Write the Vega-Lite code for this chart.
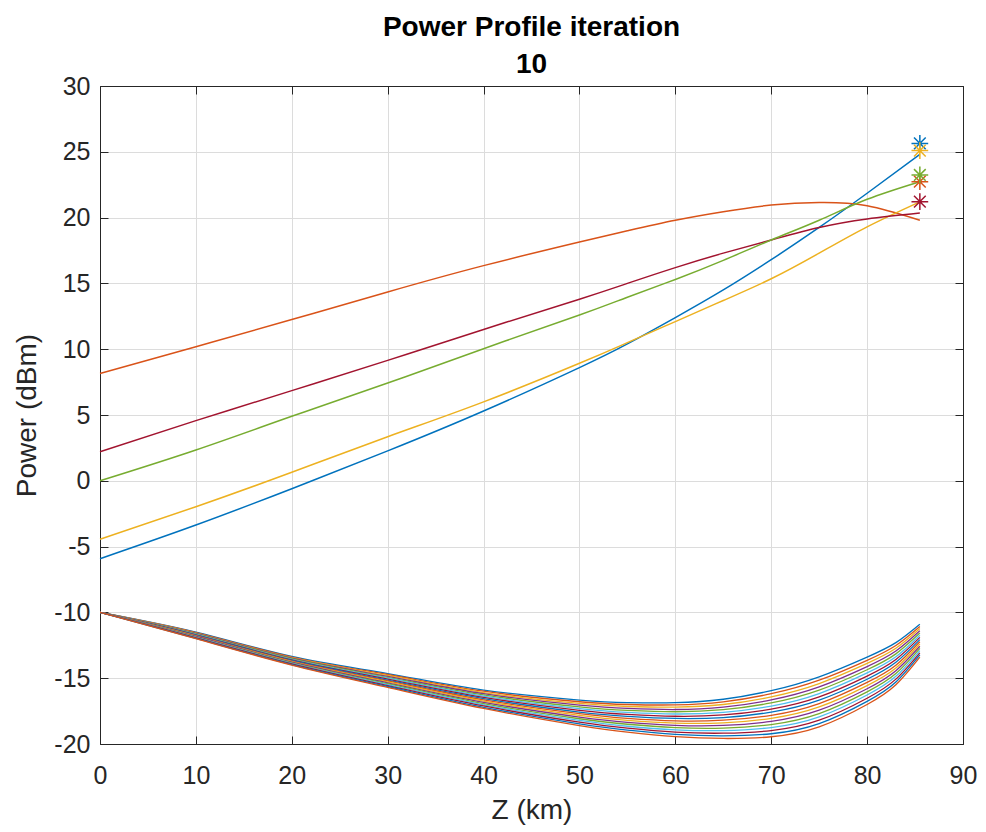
{
  "$schema": "https://vega.github.io/schema/vega-lite/v6.json",
  "width": 863,
  "height": 658,
  "autosize": "none",
  "padding": {"left": 100, "top": 86, "right": 23, "bottom": 88},
  "background": "white",
  "config": {
    "font": "Liberation Sans",
    "view": {"stroke": "#262626", "strokeWidth": 1},
    "axis": {
      "labelFont": "Liberation Sans",
      "titleFont": "Liberation Sans",
      "labelFontSize": 25,
      "titleFontSize": 28,
      "titleFontWeight": "normal",
      "labelColor": "#262626",
      "titleColor": "#262626",
      "domainColor": "#262626",
      "tickColor": "#262626",
      "gridColor": "#dcdcdc",
      "gridWidth": 1
    }
  },
  "title": {
    "text": ["Power Profile iteration", "10"],
    "font": "Liberation Sans",
    "fontSize": 28,
    "fontWeight": "bold",
    "color": "#000000",
    "anchor": "middle",
    "frame": "group",
    "lineHeight": 37,
    "offset": -5
  },
  "datasets": {
    "signals": [
      {"z": 0, "s01": -10, "s02": -10, "s03": -10, "s04": -10, "s05": -10, "s06": -10, "s07": -10, "s08": -10, "s09": -10, "s10": -10, "s11": -10, "s12": -10, "s13": -10, "s14": -10, "s15": -10, "s16": -10},
      {"z": 10, "s01": -11.5, "s02": -11.53, "s03": -11.57, "s04": -11.6, "s05": -11.63, "s06": -11.67, "s07": -11.7, "s08": -11.73, "s09": -11.77, "s10": -11.8, "s11": -11.83, "s12": -11.87, "s13": -11.9, "s14": -11.93, "s15": -11.97, "s16": -12.0},
      {"z": 20, "s01": -13.35, "s02": -13.39, "s03": -13.44, "s04": -13.48, "s05": -13.52, "s06": -13.57, "s07": -13.61, "s08": -13.65, "s09": -13.7, "s10": -13.74, "s11": -13.78, "s12": -13.83, "s13": -13.87, "s14": -13.91, "s15": -13.96, "s16": -14.0},
      {"z": 30, "s01": -14.65, "s02": -14.72, "s03": -14.79, "s04": -14.86, "s05": -14.93, "s06": -15.0, "s07": -15.07, "s08": -15.14, "s09": -15.21, "s10": -15.28, "s11": -15.35, "s12": -15.42, "s13": -15.49, "s14": -15.56, "s15": -15.63, "s16": -15.7},
      {"z": 40, "s01": -15.9, "s02": -15.99, "s03": -16.09, "s04": -16.18, "s05": -16.27, "s06": -16.37, "s07": -16.46, "s08": -16.55, "s09": -16.65, "s10": -16.74, "s11": -16.83, "s12": -16.93, "s13": -17.02, "s14": -17.11, "s15": -17.21, "s16": -17.3},
      {"z": 50, "s01": -16.66, "s02": -16.79, "s03": -16.92, "s04": -17.05, "s05": -17.18, "s06": -17.31, "s07": -17.44, "s08": -17.57, "s09": -17.69, "s10": -17.82, "s11": -17.95, "s12": -18.08, "s13": -18.21, "s14": -18.34, "s15": -18.47, "s16": -18.6},
      {"z": 55, "s01": -16.85, "s02": -17.0, "s03": -17.15, "s04": -17.3, "s05": -17.45, "s06": -17.6, "s07": -17.75, "s08": -17.9, "s09": -18.05, "s10": -18.2, "s11": -18.35, "s12": -18.5, "s13": -18.65, "s14": -18.8, "s15": -18.95, "s16": -19.1},
      {"z": 60, "s01": -16.86, "s02": -17.03, "s03": -17.2, "s04": -17.38, "s05": -17.55, "s06": -17.72, "s07": -17.89, "s08": -18.06, "s09": -18.24, "s10": -18.41, "s11": -18.58, "s12": -18.75, "s13": -18.92, "s14": -19.1, "s15": -19.27, "s16": -19.44},
      {"z": 65, "s01": -16.6, "s02": -16.8, "s03": -17.0, "s04": -17.2, "s05": -17.39, "s06": -17.59, "s07": -17.79, "s08": -17.99, "s09": -18.19, "s10": -18.39, "s11": -18.59, "s12": -18.79, "s13": -18.98, "s14": -19.18, "s15": -19.38, "s16": -19.58},
      {"z": 70, "s01": -15.95, "s02": -16.18, "s03": -16.42, "s04": -16.65, "s05": -16.88, "s06": -17.12, "s07": -17.35, "s08": -17.58, "s09": -17.82, "s10": -18.05, "s11": -18.28, "s12": -18.52, "s13": -18.75, "s14": -18.98, "s15": -19.22, "s16": -19.45},
      {"z": 75, "s01": -14.9, "s02": -15.15, "s03": -15.41, "s04": -15.66, "s05": -15.91, "s06": -16.17, "s07": -16.42, "s08": -16.67, "s09": -16.93, "s10": -17.18, "s11": -17.43, "s12": -17.69, "s13": -17.94, "s14": -18.19, "s15": -18.45, "s16": -18.7},
      {"z": 80, "s01": -13.4, "s02": -13.64, "s03": -13.88, "s04": -14.12, "s05": -14.36, "s06": -14.6, "s07": -14.84, "s08": -15.08, "s09": -15.32, "s10": -15.56, "s11": -15.8, "s12": -16.04, "s13": -16.28, "s14": -16.52, "s15": -16.76, "s16": -17.0},
      {"z": 83, "s01": -12.3, "s02": -12.51, "s03": -12.73, "s04": -12.94, "s05": -13.15, "s06": -13.37, "s07": -13.58, "s08": -13.79, "s09": -14.01, "s10": -14.22, "s11": -14.43, "s12": -14.65, "s13": -14.86, "s14": -15.07, "s15": -15.29, "s16": -15.5},
      {"z": 85.5, "s01": -10.9, "s02": -11.07, "s03": -11.23, "s04": -11.4, "s05": -11.57, "s06": -11.73, "s07": -11.9, "s08": -12.07, "s09": -12.23, "s10": -12.4, "s11": -12.57, "s12": -12.73, "s13": -12.9, "s14": -13.07, "s15": -13.23, "s16": -13.4}
    ],
    "pumps": [
      {"z": 0, "P1": -5.92, "P2": 8.15, "P3": -4.44, "P4": 2.21, "P5": 0},
      {"z": 10, "P1": -3.36, "P2": 10.19, "P3": -1.97, "P4": 4.57, "P5": 2.34},
      {"z": 20, "P1": -0.6, "P2": 12.25, "P3": 0.65, "P4": 6.85, "P5": 4.9},
      {"z": 30, "P1": 2.27, "P2": 14.35, "P3": 3.35, "P4": 9.15, "P5": 7.43},
      {"z": 40, "P1": 5.3, "P2": 16.35, "P3": 6.0, "P4": 11.5, "P5": 10.04},
      {"z": 50, "P1": 8.6, "P2": 18.15, "P3": 8.93, "P4": 13.8, "P5": 12.6},
      {"z": 55, "P1": 10.4, "P2": 19.0, "P3": 10.5, "P4": 15.0, "P5": 13.95},
      {"z": 60, "P1": 12.4, "P2": 19.8, "P3": 12.1, "P4": 16.2, "P5": 15.3},
      {"z": 65, "P1": 14.5, "P2": 20.45, "P3": 13.7, "P4": 17.3, "P5": 16.75},
      {"z": 70, "P1": 16.8, "P2": 20.95, "P3": 15.35, "P4": 18.3, "P5": 18.3},
      {"z": 75, "P1": 19.25, "P2": 21.15, "P3": 17.3, "P4": 19.25, "P5": 19.8},
      {"z": 80, "P1": 21.85, "P2": 20.9, "P3": 19.3, "P4": 19.9, "P5": 21.39},
      {"z": 85.5, "P1": 24.8, "P2": 19.8, "P3": 21.2, "P4": 20.35, "P5": 22.73}
    ],
    "markers": [
      {"z": 85.5, "P": 25.64, "ch": "P1"},
      {"z": 85.5, "P": 22.73, "ch": "P2"},
      {"z": 85.5, "P": 25.09, "ch": "P3"},
      {"z": 85.5, "P": 21.21, "ch": "P4"},
      {"z": 85.5, "P": 23.24, "ch": "P5"}
    ]
  },
  "resolve": {
    "scale": {"color": "independent"},
    "axis": {"x": "independent", "y": "independent"}
  },
  "layer": [
    {
      "data": {"name": "signals"},
      "transform": [
        {"fold": ["s01", "s02", "s03", "s04", "s05", "s06", "s07", "s08", "s09", "s10", "s11", "s12", "s13", "s14", "s15", "s16"], "as": ["ch", "P"]}
      ],
      "mark": {"type": "line", "strokeWidth": 1.3, "interpolate": "natural", "clip": true},
      "encoding": {
        "x": {
          "field": "z", "type": "quantitative",
          "scale": {"domain": [0, 90], "nice": false, "zero": false},
          "axis": {"title": "Z (km)", "values": [0, 10, 20, 30, 40, 50, 60, 70, 80, 90], "grid": true, "tickSize": -8, "labelPadding": 27, "labelFlush": false, "titlePadding": 8, "domain": true}
        },
        "y": {
          "field": "P", "type": "quantitative",
          "scale": {"domain": [-20, 30], "nice": false, "zero": false},
          "axis": {"title": "Power (dBm)", "values": [-20, -15, -10, -5, 0, 5, 10, 15, 20, 25, 30], "grid": true, "tickSize": -8, "labelPadding": 18, "labelFlush": false, "titlePadding": 12, "domain": true,
            "labelExpr": "datum.value < 0 ? '-' + abs(datum.value) : '' + datum.value"}
        },
        "color": {
          "field": "ch", "type": "nominal", "legend": null,
          "scale": {
            "domain": ["s01", "s02", "s03", "s04", "s05", "s06", "s07", "s08", "s09", "s10", "s11", "s12", "s13", "s14", "s15", "s16"],
            "range": ["#0072BD", "#D95319", "#EDB120", "#7E2F8E", "#77AC30", "#4DBEEE", "#A2142F", "#0072BD", "#D95319", "#EDB120", "#7E2F8E", "#77AC30", "#4DBEEE", "#A2142F", "#0072BD", "#D95319"]
          }
        }
      }
    },
    {
      "encoding": {
        "x": {
          "field": "z", "type": "quantitative",
          "scale": {"domain": [0, 90], "nice": false, "zero": false},
          "axis": {"orient": "top", "title": null, "labels": false, "grid": false, "values": [0, 10, 20, 30, 40, 50, 60, 70, 80, 90], "tickSize": -8, "domain": true}
        },
        "y": {
          "field": "P", "type": "quantitative",
          "scale": {"domain": [-20, 30], "nice": false, "zero": false},
          "axis": {"orient": "right", "title": null, "labels": false, "grid": false, "values": [-20, -15, -10, -5, 0, 5, 10, 15, 20, 25, 30], "tickSize": -8, "domain": true}
        },
        "color": {
          "field": "ch", "type": "nominal", "legend": null,
          "scale": {
            "domain": ["P1", "P2", "P3", "P4", "P5"],
            "range": ["#0072BD", "#D95319", "#EDB120", "#A2142F", "#77AC30"]
          }
        }
      },
      "layer": [
        {
          "data": {"name": "pumps"},
          "transform": [{"fold": ["P1", "P2", "P3", "P4", "P5"], "as": ["ch", "P"]}],
          "mark": {"type": "line", "strokeWidth": 1.5, "interpolate": "natural"}
        },
        {
          "data": {"name": "markers"},
          "mark": {
            "type": "point",
            "shape": "M-1,0L1,0M0,-1L0,1M-0.7,-0.7L0.7,0.7M-0.7,0.7L0.7,-0.7",
            "filled": false,
            "size": 280,
            "strokeWidth": 1.5,
            "opacity": 1
          }
        }
      ]
    }
  ]
}
